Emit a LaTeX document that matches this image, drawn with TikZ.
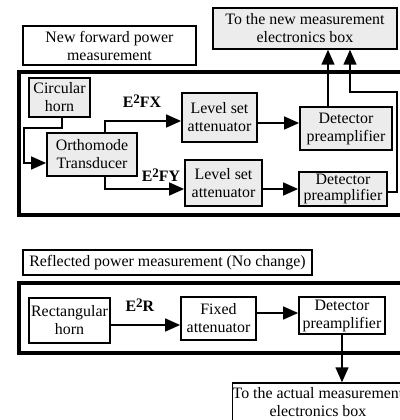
\documentclass[tikz,border=0pt]{standalone}
\usepackage{fontspec}
\setmainfont{Liberation Serif}
\usetikzlibrary{arrows.meta}
\definecolor{boxgray}{RGB}{236,236,236}
\newcommand{\Esq}[1]{\textbf{E\raisebox{0.55ex}{\fontsize{13}{13}\selectfont 2}#1}}
\begin{document}
\begin{tikzpicture}[x=1pt,y=-1pt,
  font=\fontsize{15.9}{18}\selectfont,
  blk/.style={draw, line width=1.8pt, inner sep=0pt, align=center},
  grayblk/.style={blk, fill=boxgray},
  whiteblk/.style={blk, fill=white},
  titlebox/.style={draw, line width=1.3pt, inner sep=0pt, align=center, fill=white},
  frame/.style={line width=4.5pt},
  conn/.style={line width=1.5pt},
  arr/.style={conn, -{Triangle[length=15pt,width=13pt]}},
  elab/.style={inner sep=0pt}]
\useasboundingbox (0,0) rectangle (399,420);
% frames
\draw[frame] (19,72) rectangle (425,215);
\draw[frame] (19,283) rectangle (425,353);
% top section
\node[titlebox, minimum width=173pt, minimum height=39pt] (title1) at (109.5,45.5) {New forward power\\measurement};
\node[grayblk, line width=1.5pt, minimum width=184pt, minimum height=41pt] (newbox) at (305,28.5) {To the new measurement\\electronics box};
\node[grayblk, minimum width=61pt, minimum height=39pt] (horn) at (59.5,97.5) {Circular\\horn};
\node[grayblk, minimum width=90pt, minimum height=43pt] (omt) at (92,154.5) {Orthomode\\Transducer};
\node[grayblk, minimum width=75pt, minimum height=49pt] (ls1) at (219.5,117.5) {Level set\\attenuator};
\node[grayblk, minimum width=77pt, minimum height=46pt] (ls2) at (223.5,183) {Level set\\attenuator};
\node[grayblk, minimum width=92pt, minimum height=43pt] (det1) at (346,128.5) {Detector\\preamplifier};
\node[grayblk, minimum width=88pt, minimum height=34pt, font=\fontsize{15.9}{15.5}\selectfont] (det2) at (343,189) {Detector\\preamplifier};
\node[elab] (efx) at (142,101) {\Esq{FX}};
\node[elab] (efy) at (161,175) {\Esq{FY}};
% bottom section
\node[titlebox, minimum width=289pt, minimum height=25pt] (title2) at (167.5,262.5) {Reflected power measurement (No change)};
\node[whiteblk, minimum width=81pt, minimum height=45pt] (rect) at (69.5,320.5) {Rectangular\\horn};
\node[whiteblk, minimum width=75pt, minimum height=43pt] (fixed) at (218.5,318.5) {Fixed\\attenuator};
\node[whiteblk, minimum width=86pt, minimum height=37pt] (det3) at (342,315.5) {Detector\\preamplifier};
\node[whiteblk, line width=1.5pt, minimum width=166pt, minimum height=39pt] (actual) at (318,402.5) {To the actual measurement\\electronics box};
\node[elab] (er) at (140,305) {\Esq{R}};
% connectors top
\draw[arr] ([xshift=2.5pt]horn.south) |- (24,128) |- ([yshift=-8.5pt]omt.west);
\draw[arr] ([xshift=13pt]omt.north) |- ([yshift=-3.5pt]ls1.west);
\draw[arr] ([xshift=13pt]omt.south) |- ([yshift=-6pt]ls2.west);
\path ([yshift=-5.5pt]ls1.east) coordinate (p1);
\draw[arr] (p1) -- (p1 -| det1.west);
\draw[arr] (ls2.east |- det2.west) -- (det2.west);
\path ([xshift=-18pt]det1.north) coordinate (p2);
\draw[arr] (p2) -- (p2 |- newbox.south);
\draw[arr] ([yshift=-3pt]det2.east) -| (397,92) -| ([xshift=45pt]newbox.south);
% connectors bottom
\path ([yshift=-4.5pt]rect.east) coordinate (p3);
\draw[arr] (p3) -- (p3 -| fixed.west);
\path ([yshift=5.5pt]fixed.east) coordinate (p4);
\draw[arr] (p4) -- (p4 -| det3.west);
\draw[arr] (det3.south) -- (det3.south |- actual.north);
\end{tikzpicture}
\end{document}
